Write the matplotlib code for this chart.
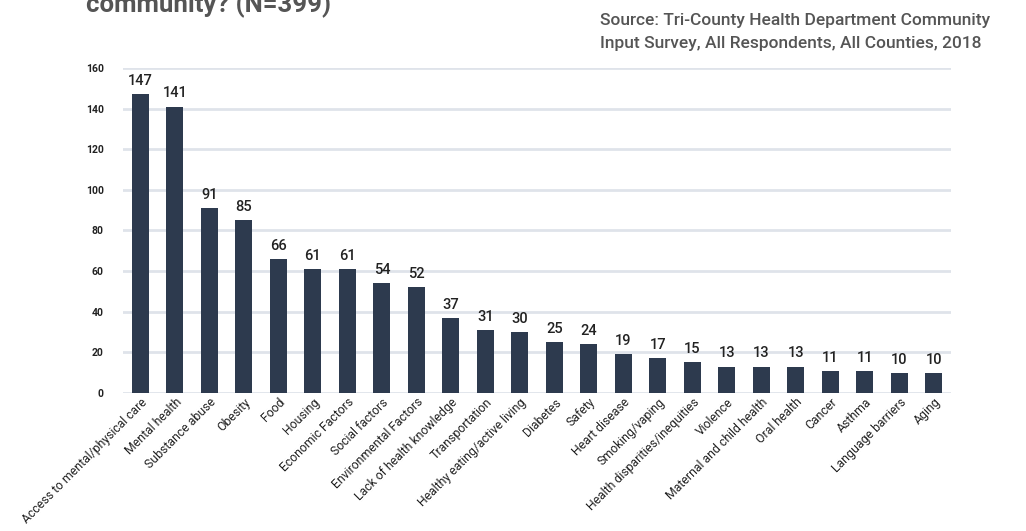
import matplotlib.pyplot as plt

categories = [
    'Access to mental/physical care', 'Mental health', 'Substance abuse',
    'Obesity', 'Food', 'Housing', 'Economic Factors', 'Social factors',
    'Environmental Factors', 'Lack of health knowledge', 'Transportation',
    'Healthy eating/active living', 'Diabetes', 'Safety', 'Heart disease',
    'Smoking/vaping', 'Health disparities/inequities', 'Violence',
    'Maternal and child health', 'Oral health', 'Cancer', 'Asthma',
    'Language barriers', 'Aging',
]
counts = [147, 141, 91, 85, 66, 61, 61, 54, 52, 37, 31, 30, 25, 24, 19, 17,
          15, 13, 13, 13, 11, 11, 10, 10]
y_ticks = [0, 20, 40, 60, 80, 100, 120, 140, 160]

title = 'community? (N=399)'
source = ('Source: Tri-County Health Department Community\n'
          'Input Survey, All Respondents, All Counties, 2018')

plt.rcParams['font.family'] = ['Roboto', 'DejaVu Sans']

bar_color = '#2d3a4e'
text_color = '#222222'
grey = '#555555'

fig = plt.figure(figsize=(10.26, 5.31), dpi=100)
ax = fig.add_axes([0.12, 0.26, 0.807, 0.612])

x = range(len(categories))
ax.bar(x, counts, width=0.5, color=bar_color, zorder=3)
for xi, v in zip(x, counts):
    ax.text(xi, v + 3, str(v), ha='center', va='bottom', fontsize=10.5,
            fontweight='medium', color=text_color, zorder=4)

ax.set_xlim(-0.5, len(categories) - 0.5)
ax.set_ylim(0, 160)
ax.set_yticks(y_ticks)
ax.set_yticklabels([str(t) for t in y_ticks], fontsize=7.5,
                   fontweight='bold', color=text_color)
ax.yaxis.grid(True, color='#dfe3ea', linewidth=2, zorder=0)
ax.set_axisbelow(True)
ax.tick_params(axis='y', length=0, pad=14)
ax.tick_params(axis='x', length=0, pad=2)
ax.set_xticks(list(x))
ax.set_xticklabels(categories, rotation=45, ha='right', rotation_mode='anchor',
                   fontsize=8.8, color=text_color)
for s in ax.spines.values():
    s.set_visible(False)

# title is clipped at the top edge, as in the source image
fig.text(86 / 1026, 1 - 12 / 531, title, fontsize=18.5, fontweight='bold',
         color=grey, va='baseline', ha='left')
fig.text(600 / 1026, 1 - 13 / 531, source, fontsize=12.5, fontweight='medium',
         color=grey, va='top', ha='left', linespacing=1.7)

fig.savefig('out.png', dpi=100)
